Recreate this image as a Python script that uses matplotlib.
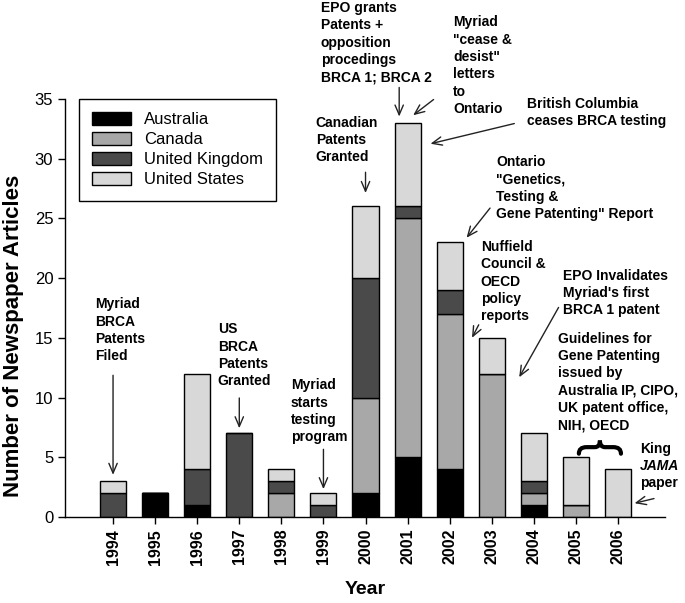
import matplotlib
matplotlib.use('Agg')
import matplotlib.pyplot as plt
from matplotlib.path import Path
from matplotlib.patches import PathPatch
import numpy as np

plt.rcParams['font.family'] = ['Liberation Sans', 'DejaVu Sans']

years = [1994, 1995, 1996, 1997, 1998, 1999, 2000, 2001, 2002, 2003, 2004, 2005, 2006]
australia = [0, 2, 1, 0, 0, 0, 2, 5, 4, 0, 1, 0, 0]
canada = [0, 0, 0, 0, 2, 0, 8, 20, 13, 12, 1, 1, 0]
uk = [2, 0, 3, 7, 1, 1, 10, 1, 2, 0, 1, 0, 0]
us = [1, 0, 8, 0, 1, 1, 6, 7, 4, 3, 4, 4, 4]
series = ['Australia', 'Canada', 'United Kingdom', 'United States']
colors = ['#000000', '#a8a8a8', '#4a4a4a', '#d8d8d8']

# annotation text, text anchor (x, top y), arrow tail, arrow tip (data units)
notes = [
    ("Myriad\nBRCA\nPatents\nFiled", (1993.57, 18.4), (1994.0, 12.1), (1994.0, 3.3)),
    ("US\nBRCA\nPatents\nGranted", (1996.49, 16.3), (1997.0, 10.2), (1997.0, 7.2)),
    ("Myriad\nstarts\ntesting\nprogram", (1998.23, 11.6), (1999.0, 5.9), (1999.0, 2.1)),
    ("Canadian\nPatents\nGranted", (1998.82, 33.6), (2000.0, 29.1), (2000.0, 26.9)),
    ("EPO grants\nPatents +\nopposition\nprocedings\nBRCA 1; BRCA 2", (1998.94, 43.2), (2000.8, 36.2), (2000.8, 33.3)),
    ("Myriad\n\"cease &\ndesist\"\nletters\nto\nOntario", (2002.08, 42.0), (2001.67, 35.1), (2001.08, 33.5)),
    ("British Columbia\nceases BRCA testing", (2003.83, 35.2), (2003.6, 33.0), (2001.48, 31.2)),
    ("Ontario\n\"Genetics,\nTesting &\nGene Patenting\" Report", (2003.1, 30.3), (2003.0, 26.05), (2002.36, 23.2)),
    ("Nuffield\nCouncil &\nOECD\npolicy\nreports", (2002.74, 23.2), (2002.72, 16.3), (2002.5, 14.8)),
    ("EPO Invalidates\nMyriad's first\nBRCA 1 patent", (2004.69, 20.8), (2004.62, 17.75), (2003.62, 11.5)),
    ("Guidelines for\nGene Patenting\nissued by\nAustralia IP, CIPO,\nUK patent office,\nNIH, OECD", (2004.57, 15.5), None, None),
]

fig = plt.figure(figsize=(6.85, 6.03), dpi=100)
ax = fig.add_axes([0.095, 0.1426, 0.876, 0.6932])

x = np.array(years)
bottom = np.zeros(len(years))
for name, vals, col in zip(series, [australia, canada, uk, us], colors):
    ax.bar(x, vals, width=0.62, bottom=bottom, color=col, edgecolor='black',
           linewidth=1, label=name, zorder=2)
    bottom += np.array(vals)

ax.set_xlim(1992.86, 2007.12)
ax.set_ylim(0, 35)
ax.set_xticks(years)
ax.set_xticklabels([str(y) for y in years], rotation=90, fontsize=11.5, fontweight='bold')
ax.set_yticks(range(0, 36, 5))
ax.tick_params(axis='y', labelsize=12, direction='out', length=5, width=1)
ax.tick_params(axis='x', direction='out', length=5, width=1)
for s in ['top', 'right']:
    ax.spines[s].set_visible(False)
for s in ['left', 'bottom']:
    ax.spines[s].set_linewidth(1)

ax.set_xlabel('Year', fontsize=14, fontweight='bold', labelpad=12)
fig.text(0.02, 0.443, 'Number of Newspaper Articles', rotation=90, fontsize=16,
         fontweight='bold', ha='center', va='center')

leg = ax.legend(loc='upper left', bbox_to_anchor=(0.023, 1.0), borderaxespad=0,
                fontsize=12, fancybox=False, edgecolor='black', framealpha=1,
                handlelength=2.3, handleheight=0.75, labelspacing=0.3,
                borderpad=0.8)
leg.get_frame().set_linewidth(1)

arrow_kw = dict(arrowstyle='->,head_length=0.7,head_width=0.3', color='#222222', lw=1)
for text, pos, tail, tip in notes:
    ax.text(pos[0], pos[1], text, fontsize=10, fontweight='bold', ha='left', va='top',
            linespacing=1.3, clip_on=False)
    if tail is not None:
        ax.annotate('', xy=tip, xytext=tail, arrowprops=arrow_kw, annotation_clip=False)

# curly brace over 2005-2006
bx0, bx1, bc = 2005.07, 2006.07, 2005.57
ylo, ymid, yhi = 5.3, 5.85, 6.4
verts = [(bx0, ylo), (bx0, ymid), (bx0 + 0.18, ymid), (bc - 0.12, ymid),
         (bc, ymid), (bc, yhi), (bc, ymid), (bc + 0.12, ymid),
         (bx1 - 0.18, ymid), (bx1, ymid), (bx1, ylo)]
codes = [Path.MOVETO, Path.CURVE3, Path.CURVE3, Path.LINETO,
         Path.CURVE3, Path.CURVE3, Path.CURVE3, Path.CURVE3,
         Path.LINETO, Path.CURVE3, Path.CURVE3]
ax.add_patch(PathPatch(Path(verts, codes), fill=False, lw=3, edgecolor='black',
                       capstyle='round', clip_on=False))

# King JAMA paper
ax.text(2006.52, 6.3, 'King', fontsize=10, fontweight='bold', ha='left', va='top', clip_on=False)
ax.text(2006.52, 4.85, 'JAMA', fontsize=10, fontweight='bold', fontstyle='italic',
        ha='left', va='top', clip_on=False)
ax.text(2006.52, 3.4, 'paper', fontsize=10, fontweight='bold', ha='left', va='top', clip_on=False)
ax.annotate('', xy=(2006.33, 1.1), xytext=(2006.92, 1.6), arrowprops=arrow_kw,
            annotation_clip=False)

fig.savefig('out.png', dpi=100)
